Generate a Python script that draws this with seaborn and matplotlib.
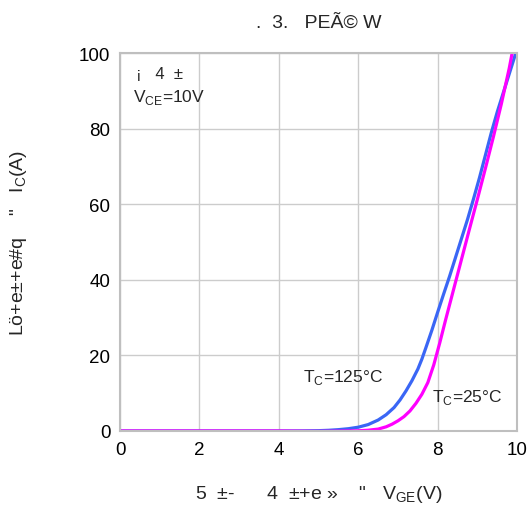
import pandas as pd
import matplotlib
matplotlib.use("Agg")
import matplotlib.pyplot as plt
import seaborn as sns

# Transfer characteristic
vge_125 = [0, 2, 4, 4.5, 5, 5.25, 5.5, 5.75, 6, 6.25, 6.5, 6.7, 6.9, 7.05, 7.2, 7.35, 7.5, 7.6, 7.7,
           7.85, 8.0, 8.15, 8.3, 8.45, 8.6, 8.75, 8.9, 9.05, 9.2, 9.35, 9.5, 9.65, 9.8, 9.95, 10.0]
ic_125 = [0, 0, 0, 0.02, 0.08, 0.18, 0.35, 0.6, 1.0, 1.7, 2.9, 4.3, 6.2, 8.2, 10.6, 13.3, 16.4, 19.0, 22.0,
          26.6, 31.5, 36.3, 41, 46, 51, 56, 61.4, 67, 73, 79, 84.5, 89.5, 94.5, 99.5, 101.5]

vge_25 = [0, 2, 4, 5, 5.5, 6, 6.25, 6.5, 6.7, 6.85, 7.0, 7.15, 7.3, 7.45, 7.6, 7.75, 7.9, 8.05,
          8.2, 8.35, 8.5, 8.65, 8.8, 9.0, 9.2, 9.4, 9.6, 9.8, 10.0]
ic_25 = [0, 0, 0, -0.1, -0.05, 0.05, 0.2, 0.5, 1.1, 1.8, 2.7, 3.8, 5.3, 7.3, 9.7, 12.8, 17.5, 23.3,
         29.5, 35.5, 41.5, 47.5, 53.5, 61.4, 69.5, 77.8, 86.5, 96, 107]

curve_labels = ["125", "25"]
curve_colors = {"125": "#3a66f5", "25": "#ff00ff"}

df = pd.concat([
    pd.DataFrame({"vge": vge_125, "ic": ic_125, "tc": "125"}),
    pd.DataFrame({"vge": vge_25, "ic": ic_25, "tc": "25"}),
])

sns.set_style("white")
plt.rcParams["font.family"] = ["Liberation Sans", "DejaVu Sans"]
plt.rcParams["mathtext.fontset"] = "custom"
plt.rcParams["mathtext.rm"] = "Liberation Sans"

fig = plt.figure(figsize=(5.31, 5.10), dpi=100)
ax = fig.add_axes([0.226, 0.153, 0.748, 0.741])

sns.lineplot(data=df, x="vge", y="ic", hue="tc", hue_order=curve_labels,
             palette=curve_colors, linewidth=2.3, legend=False, ax=ax,
             estimator=None, sort=False)

ax.set_xlim(0, 10)
ax.set_ylim(0, 100)
ax.set_xticks([0, 2, 4, 6, 8, 10])
ax.set_yticks([0, 20, 40, 60, 80, 100])
ax.grid(True, color="#cccccc", linewidth=1)
ax.set_axisbelow(True)
for sp in ax.spines.values():
    sp.set_color("#bfbfbf")
    sp.set_linewidth(1.5)
ax.tick_params(length=0, labelsize=13.5, pad=7, colors="black")

ax.set_xlabel("5  ±-      4  ±+e »    \"   V$_\\mathregular{GE}$(V)", fontsize=14, labelpad=18)
ax.set_ylabel("Lö+e±+e#q    \"   I$_\\mathregular{C}$(A)", fontsize=14, labelpad=36)
ax.set_title(".  3.   PEÃ© W", fontsize=14, pad=19)

ax.text(0.4, 94.6, "¡   4  ±", fontsize=12, va="center")
ax.text(0.33, 88.6, "V$_\\mathregular{CE}$=10V", fontsize=12.5, va="center")
ax.text(4.6, 14.5, "T$_\\mathregular{C}$=125°C", fontsize=12.5, va="center")
ax.text(7.86, 9.0, "T$_\\mathregular{C}$=25°C", fontsize=12.5, va="center")

fig.savefig("out.png", dpi=100)
